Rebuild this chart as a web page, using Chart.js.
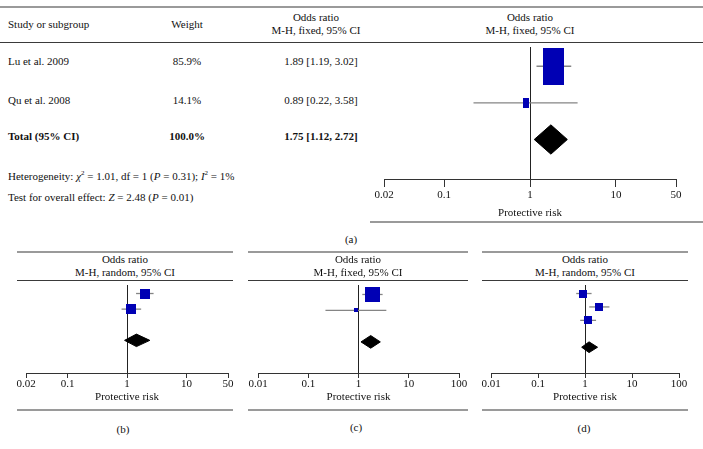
<!DOCTYPE html>
<html>
<head>
<meta charset="utf-8">
<script src="https://cdn.jsdelivr.net/npm/chart.js@4.4.0/dist/chart.umd.min.js"></script>
<style>
body { margin: 0; width: 703px; height: 449px; position: relative; background: #fff; overflow: hidden;
       font-family: "Liberation Serif", "DejaVu Serif", serif; color: #111; }
.t { position: absolute; white-space: nowrap; font-size: 11px; line-height: 14px; transform: translateY(-50%); }
.t.c { transform: translate(-50%, -50%); }
.t b { font-weight: bold; }
.t sup { font-size: 7px; vertical-align: 5px; line-height: 0; }
.rule { position: absolute; height: 0; }
.gray { border-top: 2px solid #9a9a9a; }
.dark { border-top: 1px solid #3a3a3a; }
canvas { position: absolute; }
</style>
</head>
<body>
<script>
// (a) and (c): fixed effect, two studies
const studiesA = ["Lu et al. 2009", "Qu et al. 2008"];
const weightsA = [85.9, 14.1];
const orA = [1.89, 0.89];
const loA = [1.19, 0.22];
const hiA = [3.02, 3.58];
const totalA = [1.75, 1.12, 2.72]; // estimate, lower, upper

// overall stats for (a)
const chi2 = 1.01, dfHet = 1, pHet = 0.31, i2 = 1;
const zVal = 2.48, pZ = 0.01;

// (b): random effects, two studies
const weightsB = [50, 50];
const orB = [2.02, 1.16];
const loB = [1.42, 0.81];
const hiB = [2.80, 1.73];
const totalB = [1.44, 0.91, 2.42];

// (d): random effects, three studies
const weightsD = [33, 33, 34];
const orD = [0.92, 2.02, 1.14];
const loD = [0.65, 1.23, 0.79];
const hiD = [1.38, 3.31, 1.72];
const totalD = [1.22, 0.85, 1.85];

const ticks50 = [0.02, 0.1, 1, 10, 50];
const ticks100 = [0.01, 0.1, 1, 10, 100];

const SERIF = '"Liberation Serif", "DejaVu Serif", serif';

function txt(x, y, html, center) {
    const d = document.createElement("div");
    d.className = "t" + (center ? " c" : "");
    d.style.left = x + "px";
    d.style.top = y + "px";
    d.innerHTML = html;
    document.body.appendChild(d);
}

function rule(x1, x2, y, cls) {
    const d = document.createElement("div");
    d.className = "rule " + cls;
    d.style.left = x1 + "px";
    d.style.width = (x2 - x1) + "px";
    d.style.top = y + "px";
    document.body.appendChild(d);
}

function fmtCI(o, l, h) {
    return o.toFixed(2) + " [" + l.toFixed(2) + ", " + h.toFixed(2) + "]";
}

// blue study box as a point style
function boxImage(w, h) {
    const c = document.createElement("canvas");
    c.width = Math.max(2, Math.round(w));
    c.height = Math.max(2, Math.round(h));
    const g = c.getContext("2d");
    g.fillStyle = "#0000b4";
    g.fillRect(0, 0, c.width, c.height);
    return c;
}

function forest(p) {
    const cv = document.createElement("canvas");
    cv.width = p.w;
    cv.height = p.h;
    cv.style.left = p.x + "px";
    cv.style.top = p.y + "px";
    document.body.appendChild(cv);

    const datasets = [];
    // boxes, size from weight (drawn on top)
    datasets.push({
        type: "scatter",
        order: 0,
        data: p.or.map((v, i) => ({ x: v, y: i })),
        pointStyle: p.weights.map(w => boxImage(p.boxW * Math.pow(w / 100, 0.7), p.boxH * Math.pow(w / 100, 0.7))),
        pointRadius: 4
    });
    // pooled diamond
    const r = p.totalRow, t = p.total, hh = 0.4;
    datasets.push({
        type: "line",
        order: 1,
        data: [{ x: t[1], y: r }, { x: t[0], y: r - hh }, { x: t[2], y: r }, { x: t[0], y: r + hh }, { x: t[1], y: r }],
        borderColor: "#000",
        backgroundColor: "#000",
        borderWidth: 1,
        fill: "shape",
        pointRadius: 0,
        tension: 0
    });
    // whiskers
    p.or.forEach((v, i) => {
        datasets.push({
            type: "line",
            order: 2,
            data: [{ x: p.lo[i], y: i }, { x: p.hi[i], y: i }],
            borderColor: "#858585",
            borderWidth: 1.3,
            pointRadius: 0
        });
    });

    return new Chart(cv.getContext("2d"), {
        type: "scatter",
        data: { datasets: datasets },
        options: {
            responsive: false,
            animation: false,
            devicePixelRatio: 1,
            layout: { padding: { left: p.padL, right: p.padR, top: 0, bottom: 0 } },
            plugins: { legend: { display: false }, tooltip: { enabled: false } },
            scales: {
                x: {
                    type: "logarithmic",
                    min: p.ticks[0],
                    max: p.ticks[p.ticks.length - 1],
                    afterBuildTicks: s => { s.ticks = p.ticks.map(v => ({ value: v })); },
                    afterFit: s => { s.height = p.axisH; },
                    grid: {
                        drawOnChartArea: true,
                        color: c => (c.tick && c.tick.value === 1) ? "#222" : "rgba(0,0,0,0)",
                        tickColor: "#333",
                        tickLength: p.tickLen,
                        lineWidth: 1
                    },
                    border: { color: "#333", width: 1 },
                    ticks: {
                        color: "#111",
                        font: { family: SERIF, size: 11 },
                        padding: p.tickPad,
                        autoSkip: false,
                        maxRotation: 0,
                        callback: v => String(v)
                    },
                    title: {
                        display: true,
                        text: "Protective risk",
                        color: "#111",
                        font: { family: SERIF, size: 11 },
                        padding: { top: 0, bottom: 0 }
                    }
                },
                y: { type: "linear", display: false, reverse: true, min: p.ymin, max: p.ymax }
            }
        }
    });
}

// ---------- panel (a) table ----------
rule(0, 703, 6, "gray");
rule(0, 703, 42, "dark");
rule(370, 703, 221, "gray");

txt(8, 24, "Study or subgroup");
txt(187, 24, "Weight", true);
txt(316, 17, "Odds ratio", true);
txt(316, 30, "M-H, fixed, 95% CI", true);
txt(530, 17, "Odds ratio", true);
txt(530, 30, "M-H, fixed, 95% CI", true);

const rowY = [61, 100];
studiesA.forEach((s, i) => {
    txt(8, rowY[i], s);
    txt(187, rowY[i], weightsA[i].toFixed(1) + "%", true);
    txt(321, rowY[i], fmtCI(orA[i], loA[i], hiA[i]), true);
});
txt(8, 136, "<b>Total (95% CI)</b>");
txt(187, 136, "<b>" + weightsA.reduce((a, b) => a + b, 0).toFixed(1) + "%</b>", true);
txt(321, 136, "<b>" + fmtCI(totalA[0], totalA[1], totalA[2]) + "</b>", true);
txt(8, 176, "Heterogeneity: <i>χ</i><sup>2</sup> = " + chi2.toFixed(2) + ", df = " + dfHet +
    " (<i>P</i> = " + pHet.toFixed(2) + "); <i>I</i><sup>2</sup> = " + i2 + "%");
txt(8, 197, "Test for overall effect: <i>Z</i> = " + zVal.toFixed(2) + " (<i>P</i> = " + pZ.toFixed(2) + ")");
txt(351, 239, "(a)", true);

forest({
    x: 360, y: 42, w: 343, h: 137 + 41, padL: 24, padR: 27,
    axisH: 41, tickLen: 8, tickPad: 2,
    ymin: -0.526, ymax: 3.079, totalRow: 2,
    boxW: 23.4, boxH: 41,
    ticks: ticks50, weights: weightsA, or: orA, lo: loA, hi: hiA, total: totalA
});

// ---------- bottom panels ----------
function bottomFrame(x1, x2, model) {
    const cx = (x1 + x2) / 2;
    rule(x1, x2, 251, "gray");
    rule(x1, x2, 280, "dark");
    rule(x1, x2, 409, "gray");
    txt(cx, 259, "Odds ratio", true);
    txt(cx, 272, "M-H, " + model + ", 95% CI", true);
}

bottomFrame(17, 233, "random");
txt(123, 429, "(b)", true);
forest({
    x: 0, y: 280, w: 250, h: 93 + 31, padL: 26, padR: 22,
    axisH: 31, tickLen: 5, tickPad: 0,
    ymin: -0.545, ymax: 5.09, totalRow: 3,
    boxW: 16, boxH: 16,
    ticks: ticks50, weights: weightsB, or: orB, lo: loB, hi: hiB, total: totalB
});

bottomFrame(248, 468, "fixed");
txt(356, 427, "(c)", true);
forest({
    x: 235, y: 280, w: 240, h: 93 + 31, padL: 23, padR: 16,
    axisH: 31, tickLen: 5, tickPad: 0,
    ymin: -0.6, ymax: 4.97, totalRow: 3,
    boxW: 16.5, boxH: 16.5,
    ticks: ticks100, weights: weightsA, or: orA, lo: loA, hi: hiA, total: totalA
});

bottomFrame(482, 688, "random");
txt(584, 428, "(d)", true);
forest({
    x: 470, y: 280, w: 233, h: 93 + 31, padL: 21, padR: 24,
    axisH: 31, tickLen: 5, tickPad: 0,
    ymin: -0.634, ymax: 5.92, totalRow: 4,
    boxW: 16.5, boxH: 16.5,
    ticks: ticks100, weights: weightsD, or: orD, lo: loD, hi: hiD, total: totalD
});
</script>
</body>
</html>
